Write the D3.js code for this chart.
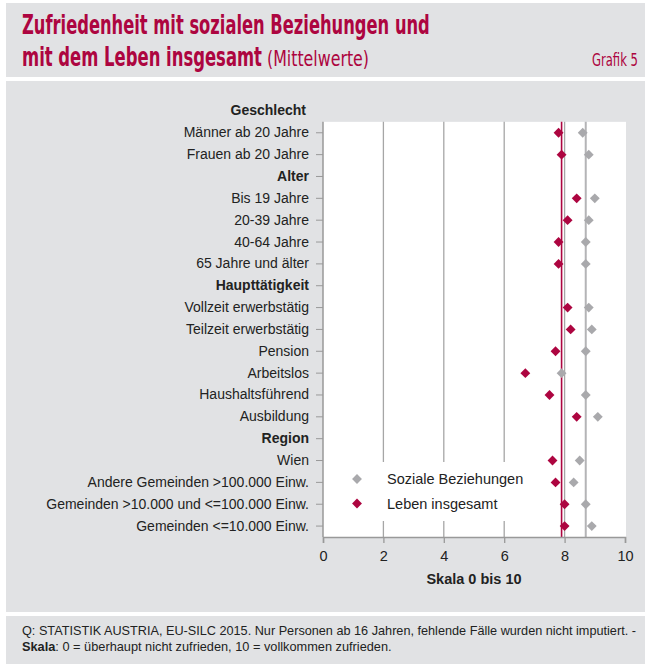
<!DOCTYPE html>
<html>
<head>
<meta charset="utf-8">
<script src="https://cdn.jsdelivr.net/npm/d3@7"></script>
<style>
  body { margin: 0; background: #fff; }
  text { font-family: "Liberation Sans", Arial, sans-serif; fill: #222; }
  .title { font-family: "DejaVu Sans Condensed", "Liberation Sans", sans-serif; fill: #ad0540; }
</style>
</head>
<body>
<div id="chart"></div>
<script>
// --- données ---
const categories = [
  "Geschlecht", "Männer ab 20 Jahre", "Frauen ab 20 Jahre",
  "Alter", "Bis 19 Jahre", "20-39 Jahre", "40-64 Jahre", "65 Jahre und älter",
  "Haupttätigkeit", "Vollzeit erwerbstätig", "Teilzeit erwerbstätig", "Pension",
  "Arbeitslos", "Haushaltsführend", "Ausbildung",
  "Region", "Wien", "Andere Gemeinden >100.000 Einw.",
  "Gemeinden >10.000 und <=100.000 Einw.", "Gemeinden <=10.000 Einw."
];
const headers = ["Geschlecht", "Alter", "Haupttätigkeit", "Region"];
const sozialeBeziehungen = [null, 8.6, 8.8, null, 9.0, 8.8, 8.7, 8.7, null, 8.8, 8.9, 8.7, 7.9, 8.7, 9.1, null, 8.5, 8.3, 8.7, 8.9];
const lebenInsgesamt     = [null, 7.8, 7.9, null, 8.4, 8.1, 7.8, 7.8, null, 8.1, 8.2, 7.7, 6.7, 7.5, 8.4, null, 7.6, 7.7, 8.0, 8.0];
const mittelSoziale = 8.7;
const mittelLeben = 7.9;
const xTicks = [0, 2, 4, 6, 8, 10];
const seriesNames = ["Soziale Beziehungen", "Leben insgesamt"];

const width = 649, height = 664;
const rouge = "#ad0540", gris = "#a9a9ac", fond = "#e1e2e4";

const svg = d3.select("#chart").append("svg")
  .attr("width", width).attr("height", height);

// texte resserré horizontalement (pas de police étroite installée)
function narrowText(sel, x0, y0, targetWidth) {
  const w = sel.node().getComputedTextLength();
  sel.attr("x", 0).attr("y", 0)
    .attr("transform", `translate(${x0},${y0}) scale(${targetWidth / w},1)`);
  return sel;
}

// panneaux gris
svg.append("rect").attr("x", 6).attr("y", 3).attr("width", 639).attr("height", 74).attr("fill", fond);
svg.append("rect").attr("x", 6).attr("y", 81).attr("width", 639).attr("height", 531).attr("fill", fond);
svg.append("rect").attr("x", 6).attr("y", 616).attr("width", 639).attr("height", 48).attr("fill", fond);

// titre
narrowText(svg.append("text").attr("class", "title")
  .style("font-size", "26px").style("font-weight", "bold")
  .text("Zufriedenheit mit sozialen Beziehungen und"), 22, 34, 408);
narrowText(svg.append("text").attr("class", "title")
  .style("font-size", "26px").style("font-weight", "bold")
  .text("mit dem Leben insgesamt"), 22, 66, 240);
narrowText(svg.append("text").attr("class", "title")
  .style("font-size", "21px").text("(Mittelwerte)"), 267, 66, 102);
narrowText(svg.append("text").attr("class", "title")
  .style("font-size", "17px").text("Grafik 5"), 592, 66, 46);

// échelles
const x = d3.scaleLinear().domain([0, 10]).range([323, 625]);
const y = d3.scaleBand().domain(categories).range([100, 537]);
const yc = d => y(d) + y.bandwidth() / 2;
const plotTop = y(categories[1]), plotBottom = 537;

// zone blanche
svg.append("rect").attr("x", x(0)).attr("y", plotTop)
  .attr("width", x(10) - x(0) + 1).attr("height", plotBottom - plotTop).attr("fill", "#fff");

// grille
svg.append("g").selectAll("line").data(xTicks.filter(d => d > 0 && d < 10)).join("line")
  .attr("x1", d => x(d)).attr("x2", d => x(d))
  .attr("y1", plotTop).attr("y2", plotBottom)
  .attr("stroke", "#a6a6a6").attr("stroke-width", 1.3);

// légende (fond blanc qui coupe la grille)
const leg = svg.append("g");
leg.append("rect").attr("x", 335).attr("y", 462).attr("width", 195).attr("height", 59).attr("fill", "#fff");

// lignes des moyennes
svg.append("line").attr("x1", x(mittelSoziale)).attr("x2", x(mittelSoziale))
  .attr("y1", plotTop).attr("y2", plotBottom).attr("stroke", "#b4b4b6").attr("stroke-width", 2);
svg.append("line").attr("x1", x(mittelLeben)).attr("x2", x(mittelLeben))
  .attr("y1", plotTop).attr("y2", plotBottom).attr("stroke", rouge).attr("stroke-width", 1.6);

// axes
const xAxis = svg.append("g").attr("transform", `translate(0,${plotBottom})`)
  .call(d3.axisBottom(x).tickValues(xTicks).tickSize(6).tickPadding(8));
xAxis.select(".domain").attr("stroke", "#999").attr("stroke-width", 1.5);
xAxis.selectAll(".tick line").attr("stroke", "#999").attr("stroke-width", 1.3);
xAxis.selectAll(".tick text").style("font-size", "14.5px").style("font-family", "Liberation Sans, Arial, sans-serif").attr("fill", "#222");

const yAxis = svg.append("g").attr("transform", `translate(${x(0)},0)`)
  .call(d3.axisLeft(y).tickValues(categories.slice(1)).tickSize(7).tickPadding(7));
yAxis.select(".domain").attr("d", `M0,${plotTop}V${plotBottom}`).attr("stroke", "#999").attr("stroke-width", 1.5);
yAxis.selectAll(".tick line").attr("stroke", "#999");
yAxis.selectAll(".tick text")
  .style("font-size", "14px").style("font-family", "Liberation Sans, Arial, sans-serif").attr("fill", "#222")
  .style("font-weight", d => headers.includes(d) ? "bold" : "normal");
svg.append("text").attr("x", 306).attr("y", yc("Geschlecht"))
  .attr("dy", "0.32em").attr("text-anchor", "end")
  .style("font-size", "14px").style("font-weight", "bold").text("Geschlecht");

svg.append("text").attr("x", (x(0) + x(10)) / 2).attr("y", 584)
  .attr("text-anchor", "middle").style("font-size", "14.5px").style("font-weight", "bold")
  .text("Skala 0 bis 10");

// losanges
const diamond = d3.symbol().type(d3.symbolDiamond2).size(62);
const rows = categories.map((c, i) => ({ c, s: sozialeBeziehungen[i], l: lebenInsgesamt[i] }))
  .filter(d => d.s !== null);
svg.append("g").selectAll("path").data(rows).join("path")
  .attr("d", diamond).attr("fill", gris)
  .attr("transform", d => `translate(${x(d.s)},${yc(d.c)})`);
svg.append("g").selectAll("path").data(rows).join("path")
  .attr("d", diamond).attr("fill", rouge)
  .attr("transform", d => `translate(${x(d.l)},${yc(d.c)})`);

// légende
[gris, rouge].forEach((col, i) => {
  leg.append("path").attr("d", diamond).attr("fill", col)
    .attr("transform", `translate(357,${479 + i * 24.5})`);
  leg.append("text").attr("x", 387).attr("y", 479 + i * 24.5).attr("dy", "0.35em")
    .style("font-size", "14.5px").text(seriesNames[i]);
});

// source
narrowText(svg.append("text").style("font-size", "12.5px")
  .text("Q: STATISTIK AUSTRIA, EU-SILC 2015. Nur Personen ab 16 Jahren, fehlende Fälle wurden nicht imputiert. -"),
  22, 635, 615);
const f2 = svg.append("text").style("font-size", "12.5px");
f2.append("tspan").style("font-weight", "bold").text("Skala");
f2.append("tspan").text(": 0 = überhaupt nicht zufrieden, 10 = vollkommen zufrieden.");
narrowText(f2, 22, 651, 370);
</script>
</body>
</html>
